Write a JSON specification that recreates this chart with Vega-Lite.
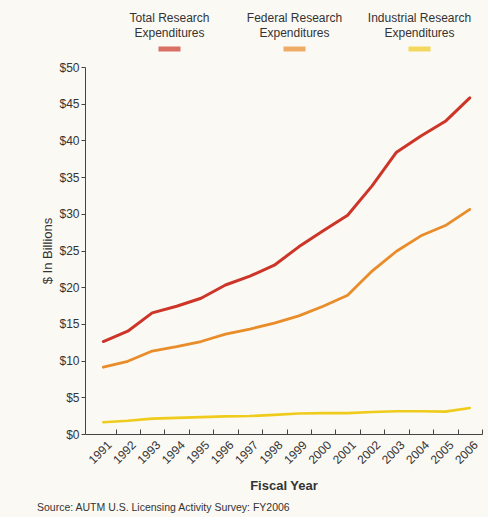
{
  "$schema": "https://vega.github.io/schema/vega-lite/v6.json",
  "background": "#fbf9f4",
  "padding": {"left": 36, "top": 5, "right": 5, "bottom": 5},
  "spacing": 6,
  "config": {
    "view": {"stroke": null},
    "font": "Liberation Sans",
    "axis": {
      "domainColor": "#444",
      "tickColor": "#444",
      "labelColor": "#333",
      "titleColor": "#333",
      "grid": false
    }
  },
  "title": {
    "text": "Source: AUTM U.S. Licensing Activity Survey: FY2006",
    "orient": "bottom",
    "anchor": "start",
    "fontSize": 10.5,
    "fontWeight": "normal",
    "color": "#333",
    "offset": 10,
    "dx": -5
  },
  "vconcat": [
    {
      "width": 397,
      "height": 50,
      "data": {
        "values": [
          {"series": "Total Research\nExpenditures"},
          {"series": "Federal Research\nExpenditures"},
          {"series": "Industrial Research\nExpenditures"}
        ]
      },
      "encoding": {
        "x": {
          "field": "series",
          "type": "nominal",
          "sort": null,
          "axis": null,
          "scale": {"paddingInner": 0, "paddingOuter": 0.088, "align": 1}
        }
      },
      "layer": [
        {
          "mark": {
            "type": "text",
            "lineBreak": "\n",
            "fontSize": 12,
            "lineHeight": 15,
            "color": "#333",
            "dy": -12
          },
          "encoding": {"text": {"field": "series"}}
        },
        {
          "mark": {"type": "tick", "orient": "horizontal", "size": 22, "thickness": 5, "yOffset": 19},
          "encoding": {
            "color": {"field": "series", "type": "nominal", "legend": null}
          }
        }
      ]
    },
    {
      "width": 397,
      "height": 367,
      "data": {
        "values": [
          {"year": 1991, "series": "Total Research\nExpenditures", "value": 12.6},
          {"year": 1992, "series": "Total Research\nExpenditures", "value": 14.0},
          {"year": 1993, "series": "Total Research\nExpenditures", "value": 16.5},
          {"year": 1994, "series": "Total Research\nExpenditures", "value": 17.4},
          {"year": 1995, "series": "Total Research\nExpenditures", "value": 18.5},
          {"year": 1996, "series": "Total Research\nExpenditures", "value": 20.3},
          {"year": 1997, "series": "Total Research\nExpenditures", "value": 21.5},
          {"year": 1998, "series": "Total Research\nExpenditures", "value": 23.0},
          {"year": 1999, "series": "Total Research\nExpenditures", "value": 25.5},
          {"year": 2000, "series": "Total Research\nExpenditures", "value": 27.7},
          {"year": 2001, "series": "Total Research\nExpenditures", "value": 29.8},
          {"year": 2002, "series": "Total Research\nExpenditures", "value": 33.8},
          {"year": 2003, "series": "Total Research\nExpenditures", "value": 38.4},
          {"year": 2004, "series": "Total Research\nExpenditures", "value": 40.6},
          {"year": 2005, "series": "Total Research\nExpenditures", "value": 42.6},
          {"year": 2006, "series": "Total Research\nExpenditures", "value": 45.8},
          {"year": 1991, "series": "Federal Research\nExpenditures", "value": 9.1},
          {"year": 1992, "series": "Federal Research\nExpenditures", "value": 9.9},
          {"year": 1993, "series": "Federal Research\nExpenditures", "value": 11.3},
          {"year": 1994, "series": "Federal Research\nExpenditures", "value": 11.9},
          {"year": 1995, "series": "Federal Research\nExpenditures", "value": 12.6},
          {"year": 1996, "series": "Federal Research\nExpenditures", "value": 13.6},
          {"year": 1997, "series": "Federal Research\nExpenditures", "value": 14.3},
          {"year": 1998, "series": "Federal Research\nExpenditures", "value": 15.1},
          {"year": 1999, "series": "Federal Research\nExpenditures", "value": 16.1},
          {"year": 2000, "series": "Federal Research\nExpenditures", "value": 17.4},
          {"year": 2001, "series": "Federal Research\nExpenditures", "value": 18.9},
          {"year": 2002, "series": "Federal Research\nExpenditures", "value": 22.2},
          {"year": 2003, "series": "Federal Research\nExpenditures", "value": 24.9},
          {"year": 2004, "series": "Federal Research\nExpenditures", "value": 27.0},
          {"year": 2005, "series": "Federal Research\nExpenditures", "value": 28.4},
          {"year": 2006, "series": "Federal Research\nExpenditures", "value": 30.6},
          {"year": 1991, "series": "Industrial Research\nExpenditures", "value": 1.6},
          {"year": 1992, "series": "Industrial Research\nExpenditures", "value": 1.8},
          {"year": 1993, "series": "Industrial Research\nExpenditures", "value": 2.1},
          {"year": 1994, "series": "Industrial Research\nExpenditures", "value": 2.2},
          {"year": 1995, "series": "Industrial Research\nExpenditures", "value": 2.3},
          {"year": 1996, "series": "Industrial Research\nExpenditures", "value": 2.4},
          {"year": 1997, "series": "Industrial Research\nExpenditures", "value": 2.45},
          {"year": 1998, "series": "Industrial Research\nExpenditures", "value": 2.6},
          {"year": 1999, "series": "Industrial Research\nExpenditures", "value": 2.8},
          {"year": 2000, "series": "Industrial Research\nExpenditures", "value": 2.85},
          {"year": 2001, "series": "Industrial Research\nExpenditures", "value": 2.85},
          {"year": 2002, "series": "Industrial Research\nExpenditures", "value": 3.0},
          {"year": 2003, "series": "Industrial Research\nExpenditures", "value": 3.1},
          {"year": 2004, "series": "Industrial Research\nExpenditures", "value": 3.1},
          {"year": 2005, "series": "Industrial Research\nExpenditures", "value": 3.05},
          {"year": 2006, "series": "Industrial Research\nExpenditures", "value": 3.55}
        ]
      },
      "mark": {"type": "line", "strokeCap": "round", "strokeJoin": "round"},
      "encoding": {
        "x": {
          "field": "year",
          "type": "quantitative",
          "scale": {"domain": [1990.25, 2006.5], "nice": false, "zero": false},
          "axis": {
            "title": "Fiscal Year",
            "titleFontSize": 13,
            "titleFontWeight": "bold",
            "titlePadding": 14,
            "values": [1991, 1992, 1993, 1994, 1995, 1996, 1997, 1998, 1999, 2000, 2001, 2002, 2003, 2004, 2005, 2006],
            "format": "d",
            "labelAngle": -45,
            "labelFontSize": 12,
            "tickOffset": 12.2,
            "labelOffset": -10,
            "tickSize": -5,
            "labelPadding": 10,
            "labelFlush": false,
            "labelOverlap": false
          }
        },
        "y": {
          "field": "value",
          "type": "quantitative",
          "scale": {"domain": [0, 50], "nice": false},
          "axis": {
            "title": "$ In Billions",
            "titleFontSize": 13,
            "titleFontWeight": "normal",
            "titlePadding": 4,
            "values": [0, 5, 10, 15, 20, 25, 30, 35, 40, 45, 50],
            "labelExpr": "'$' + datum.label",
            "labelFontSize": 12,
            "tickSize": 4,
            "labelPadding": 2
          }
        },
        "color": {
          "field": "series",
          "type": "nominal",
          "sort": null,
          "scale": {
            "domain": ["Total Research\nExpenditures", "Federal Research\nExpenditures", "Industrial Research\nExpenditures"],
            "range": ["#cc3528", "#e98c2a", "#efcb1c"]
          },
          "legend": null
        },
        "strokeWidth": {
          "field": "series",
          "type": "nominal",
          "scale": {
            "domain": ["Total Research\nExpenditures", "Federal Research\nExpenditures", "Industrial Research\nExpenditures"],
            "range": [3, 2.6, 3.6]
          },
          "legend": null
        }
      }
    }
  ]
}
